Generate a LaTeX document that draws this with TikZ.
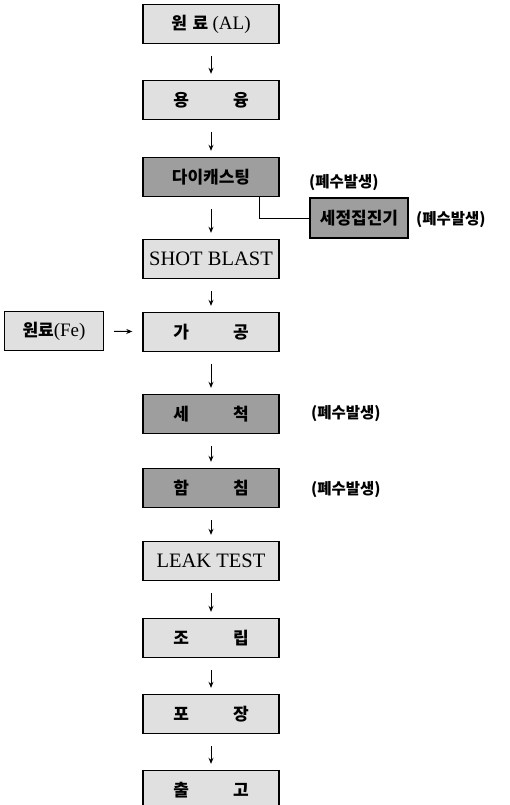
\documentclass[tikz,border=0pt]{standalone}
\usepackage{fontspec}
\setmainfont{Liberation Serif}
\newfontfamily\kr{Noto Sans CJK KR}
\usetikzlibrary{arrows.meta,positioning,calc}
\definecolor{boxlight}{gray}{0.88}
\definecolor{boxdark}{gray}{0.62}
\newcommand{\gap}{\hspace{2.6em}}

\begin{document}
\begin{tikzpicture}[
    x=1pt, y=-1pt, >=Stealth,
    pb/.style={rectangle, draw=black, line width=1.4pt, fill=boxlight,
               minimum width=136pt, minimum height=39pt, inner sep=0pt,
               font=\fontsize{17}{20}\selectfont\bfseries},
    pbd/.style={pb, fill=boxdark},
    ww/.style={anchor=west, inner sep=0pt, font=\kr\bfseries\fontsize{15.5}{18}\selectfont},
    arr/.style={-{Stealth[length=6pt,width=5pt]}, line width=1pt,
                shorten <=12pt, shorten >=6pt}
]
\useasboundingbox (0,0) rectangle (509,805);
\clip (0,0) rectangle (509,805);

% main process column
\node[pb]  (alraw)   at (211,24)  {{\kr 원\,\,료} {\mdseries\fontsize{19}{20}\selectfont (AL)}};
\node[pb]  (melt)    at (211,100) {\kr 용\gap 융};
\node[pbd] (diecast) at (211,177) {\kr 다이캐스팅};
\node[pb, font=\fontsize{20.5}{22}\selectfont] (shot) at (211,259) {SHOT BLAST};
\node[pb]  (machine) at (211,332) {\kr 가\gap 공};
\node[pbd] (wash)    at (211,414) {\kr 세\gap 척};
\node[pbd] (impreg)  at (211,488) {\kr 함\gap 침};
\node[pb, font=\fontsize{20.5}{22}\selectfont] (leak) at (211,561) {LEAK TEST};
\node[pb]  (assy)    at (211,638) {\kr 조\gap 립};
\node[pb]  (pack)    at (211,714) {\kr 포\gap 장};
\node[pb]  (ship)    at (211,790) {\kr 출\gap 고};

% side inputs / outputs
\node[pb, minimum width=99pt] (feraw) at (54,331) {{\kr 원료}{\mdseries\fontsize{19}{20}\selectfont(Fe)}};
\node[pbd, minimum width=98pt, minimum height=40pt] (scrub) at (359,218) {\kr 세정집진기};
\node[ww] (ww1) at (309,183) {(폐수발생)};
\node[ww] (ww2) at (416,220) {(폐수발생)};
\node[ww] (ww3) at (311,414) {(폐수발생)};
\node[ww] (ww4) at (311,490) {(폐수발생)};

\draw[arr] (alraw) -- (melt);   \draw[arr] (melt) -- (diecast);
\draw[arr] (diecast) -- (shot); \draw[arr] (shot) -- (machine);
\draw[arr] (machine) -- (wash); \draw[arr] (wash) -- (impreg);
\draw[arr] (impreg) -- (leak);  \draw[arr] (leak) -- (assy);
\draw[arr] (assy) -- (pack);    \draw[arr] (pack) -- (ship);
\draw[arr, shorten <=10pt, shorten >=10pt] (feraw) -- (machine);
\draw[line width=1pt] ([xshift=48pt]diecast.south) |- (scrub.west);
\end{tikzpicture}
\end{document}
